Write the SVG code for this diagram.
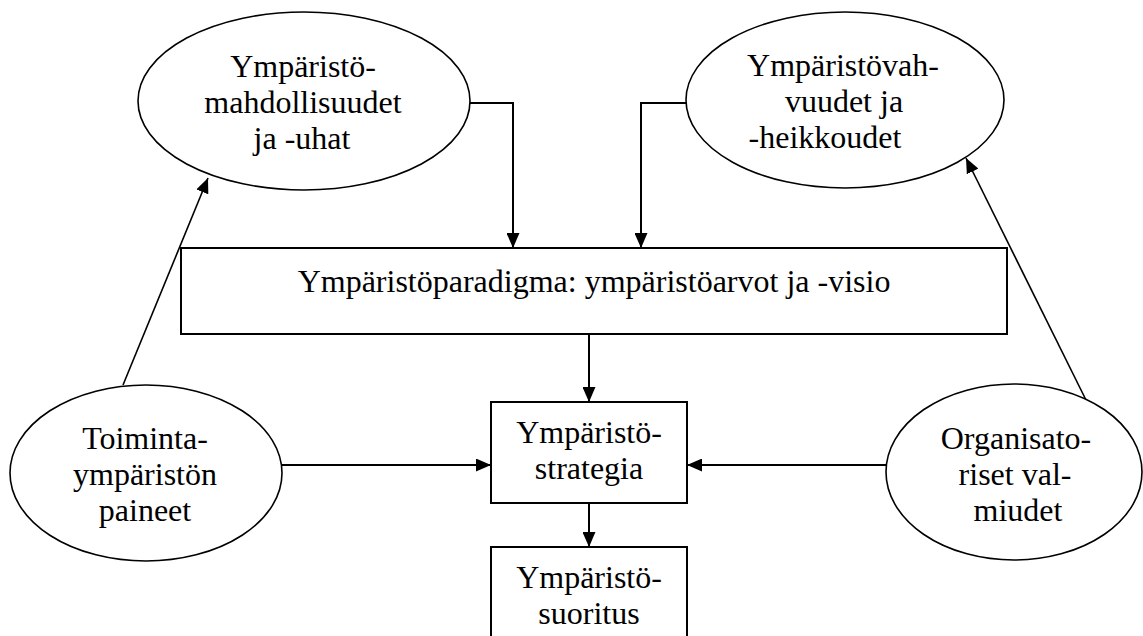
<svg xmlns="http://www.w3.org/2000/svg" width="1143" height="636" viewBox="0 0 1143 636">
<style>
.shape{fill:#fff;stroke:#000;stroke-width:2}
.ell{fill:#fff;stroke:#000;stroke-width:1.6}
text{font-family:'Times New Roman','Liberation Serif',serif;font-size:32px;fill:#000;text-anchor:middle}
.c{fill:none;stroke:#000;stroke-width:2}
.d{fill:none;stroke:#000;stroke-width:1.6}
</style>
<defs>
<marker id="ah" markerUnits="userSpaceOnUse" markerWidth="16" markerHeight="13" refX="15" refY="6.5" orient="auto">
<path d="M0,0 L15,6.5 L0,13 z" fill="#000"/>
</marker>
</defs>
<rect width="1143" height="636" fill="#fff"/>
<g id="connectors">
<path class="c" d="M470,103 H513 V248" marker-end="url(#ah)"/>
<path class="c" d="M686,103 H641 V248" marker-end="url(#ah)"/>
<path class="c" d="M589,334 V402" marker-end="url(#ah)"/>
<path class="c" d="M589,503 V547" marker-end="url(#ah)"/>
<path class="c" d="M282,465 H491" marker-end="url(#ah)"/>
<path class="c" d="M886,465 H687" marker-end="url(#ah)"/>
<path class="d" d="M123,385 L208,178" marker-end="url(#ah)"/>
<path class="d" d="M1086,400 L966,158" marker-end="url(#ah)"/>
</g>
<g id="opportunities">
<ellipse class="ell" cx="304" cy="101" rx="166" ry="89"/>
<text x="303" y="77">Ympäristö-</text>
<text x="303" y="113">mahdollisuudet</text>
<text x="302" y="149">ja -uhat</text>
</g>
<g id="strengths">
<ellipse class="ell" cx="845" cy="100" rx="159" ry="88"/>
<text x="843" y="76">Ympäristövah-</text>
<text x="844" y="112">vuudet ja</text>
<text x="825" y="148">-heikkoudet</text>
</g>
<g id="paradigm">
<rect class="shape" x="181" y="248" width="826" height="86"/>
<text x="594" y="292">Ympäristöparadigma: ympäristöarvot ja -visio</text>
</g>
<g id="pressures">
<ellipse class="ell" cx="146" cy="473" rx="136" ry="88"/>
<text x="145" y="449">Toiminta-</text>
<text x="145" y="485">ympäristön</text>
<text x="145" y="521">paineet</text>
</g>
<g id="strategy">
<rect class="shape" x="491" y="402" width="196" height="101"/>
<text x="589" y="443">Ympäristö-</text>
<text x="589" y="479">strategia</text>
</g>
<g id="capabilities">
<ellipse class="ell" cx="1014" cy="472" rx="128" ry="88"/>
<text x="1016" y="449">Organisato-</text>
<text x="1015" y="485">riset val-</text>
<text x="1018" y="521">miudet</text>
</g>
<g id="performance">
<rect class="shape" x="491" y="547" width="196" height="100"/>
<text x="589" y="588">Ympäristö-</text>
<text x="589" y="624">suoritus</text>
</g>
</svg>
